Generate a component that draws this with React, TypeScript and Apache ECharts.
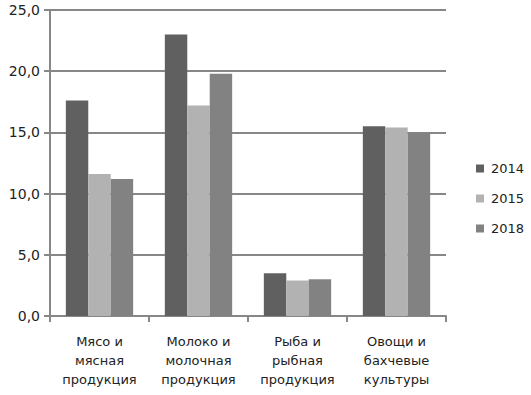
import React, { useEffect, useRef } from "react";
import * as echarts from "echarts";

const categories = ["Мясо и\nмясная\nпродукция", "Молоко и\nмолочная\nпродукция", "Рыба и\nрыбная\nпродукция", "Овощи и\nбахчевые\nкультуры"];
const seriesNames = ["2014", "2015", "2018"];
const values2014 = [17.6, 23.0, 3.5, 15.5];
const values2015 = [11.6, 17.2, 2.9, 15.4];
const values2018 = [11.2, 19.8, 3.0, 15.0];
const colors = ["#606060", "#b2b2b2", "#828282"];

export default function App() {
  const ref = useRef<HTMLDivElement>(null);
  useEffect(() => {
    const chart = echarts.init(ref.current!, null, { renderer: "svg" });
    const data = [values2014, values2015, values2018];
    chart.setOption({
      animation: false,
      textStyle: { fontFamily: "DejaVu Sans" },
      grid: { left: 50, right: 85, top: 10, bottom: 79 },
      legend: {
        orient: "vertical",
        left: 471,
        top: 157,
        itemWidth: 8,
        itemHeight: 8,
        itemGap: 17,
        icon: "rect",
        textStyle: { fontSize: 13, color: "#222", fontFamily: "DejaVu Sans", padding: [0, 0, 0, 2] },
        data: seriesNames,
      },
      xAxis: {
        type: "category",
        data: categories,
        axisLine: { lineStyle: { color: "#878787", width: 2 } },
        axisTick: { show: true, length: 6, lineStyle: { color: "#878787", width: 2 } },
        axisLabel: { color: "#222", fontSize: 13, lineHeight: 19, margin: 16, interval: 0 },
      },
      yAxis: {
        type: "value",
        min: 0,
        max: 25,
        interval: 5,
        axisLine: { show: true, lineStyle: { color: "#878787", width: 2 } },
        axisTick: { show: true, length: 6, lineStyle: { color: "#878787", width: 2 } },
        splitLine: { lineStyle: { color: "#878787", width: 2 } },
        axisLabel: {
          color: "#222",
          fontSize: 14,
          margin: 10,
          formatter: (v: number) => v.toFixed(1).replace(".", ","),
        },
      },
      series: seriesNames.map((name, i) => ({
        name,
        type: "bar",
        data: data[i],
        barGap: "0%",
        barCategoryGap: "32%",
        itemStyle: { color: colors[i] },
      })),
    });
    return () => chart.dispose();
  }, []);
  return <div ref={ref} style={{ width: 531, height: 395, position: "absolute", left: 0, top: 0, background: "#fff" }} />;
}
